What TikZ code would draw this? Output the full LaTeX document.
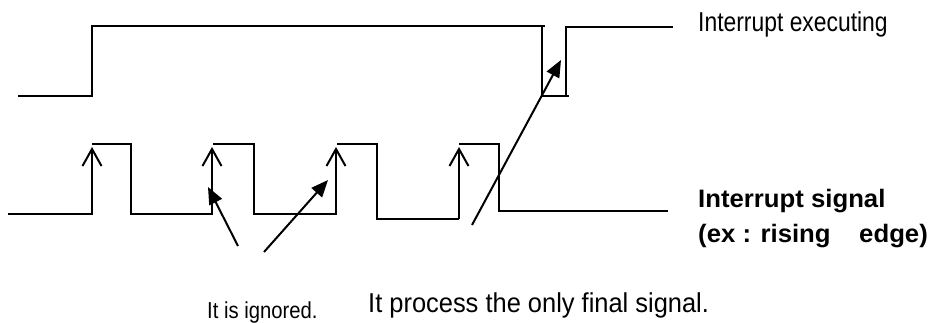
\documentclass[tikz,border=0pt]{standalone}
\usepackage{fontspec}
\usepackage{graphicx}
\setmainfont{Liberation Sans}
\usetikzlibrary{arrows.meta}

\tikzset{
  wave/.style={line width=2pt, line join=miter},
  edgemark/.style={line width=2pt},
  pointer/.style={line width=2pt, -{Triangle[length=17pt,width=14pt]}},
  label/.style={inner sep=0pt, anchor=base west},
}

\begin{document}
\begin{tikzpicture}[x=1pt, y=-1pt]
\useasboundingbox (0,0) rectangle (934,322);

% interrupt executing line
\draw[wave] (18,96) -- (92,96) -- (92,26) -- (545,26);
\draw[wave] (542,26) -- (542,96) -- (569,96);
\draw[wave] (566,96) -- (566,27) -- (673,27);

% interrupt signal line
\draw[wave] (8,214) -- (92,214) -- (92,149);
\draw[wave] (92,144) -- (131,144) -- (131,214) -- (212,214) -- (212,149);
\draw[wave] (213,144) -- (254,144) -- (254,214) -- (336,214) -- (336,149);
\draw[wave] (337,144) -- (377,144) -- (377,219) -- (459,219);
\draw[wave] (459,219) -- (459,149);
\draw[wave] (459,144) -- (499,144) -- (499,211) -- (668,211);

% rising edge marks
\foreach \ex in {92,212,336,459}
  \draw[edgemark] (\ex-9.5,166) -- (\ex,149) -- (\ex+9.5,166);

% pointer arrows
\coordinate (p1s) at (238,246);
\coordinate (p1e) at (208,187);
\coordinate (p2s) at (264,252);
\coordinate (p2e) at (328,180);
\coordinate (p3s) at (472,225);
\coordinate (p3e) at (561,60);
\draw[pointer] (p1s) -- (p1e);
\draw[pointer] (p2s) -- (p2e);
\draw[pointer] (p3s) -- (p3e);

% labels
\node[label] (exec) at (698,31)
  {\scalebox{0.88}[1.05]{\fontsize{26}{30}\selectfont Interrupt executing}};
\node[label] (sig1) at (698,207)
  {\scalebox{1.05}[1.03]{\fontsize{24.5}{28}\selectfont\bfseries Interrupt signal}};
\node[label] (sig2) at (698,242)
  {\scalebox{1.05}[1.03]{\fontsize{24.5}{28}\selectfont\bfseries (ex : rising\ \ \ \ edge)}};
\node[label] (ign) at (207,318)
  {\scalebox{0.92}[1.05]{\fontsize{22}{26}\selectfont It is ignored.}};
\node[label] (fin) at (368,312)
  {\scalebox{0.96}[1.03]{\fontsize{26.5}{30}\selectfont It process the only final signal.}};
\end{tikzpicture}
\end{document}
